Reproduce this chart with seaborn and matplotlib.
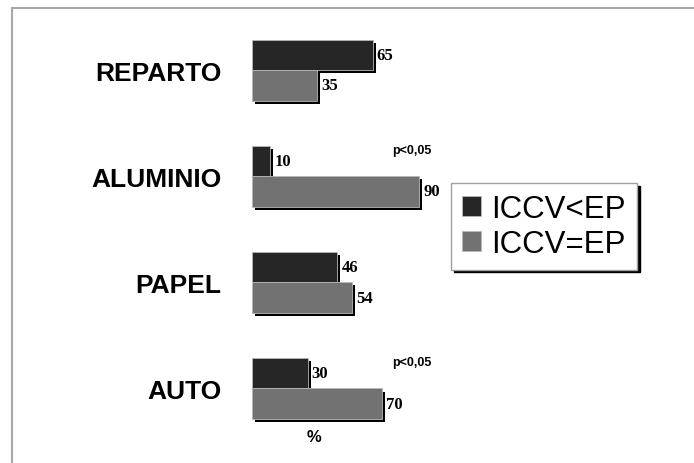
import matplotlib
matplotlib.use("Agg")
import matplotlib.patheffects as pe
import pandas as pd
import seaborn as sns
from matplotlib import pyplot as plt
from matplotlib.lines import Line2D

categories = ["REPARTO", "ALUMINIO", "PAPEL", "AUTO"]
groups = ["ICCV<EP", "ICCV=EP"]
iccv_lt_ep = [65, 10, 46, 30]
iccv_eq_ep = [35, 90, 54, 70]
significant = ["ALUMINIO", "AUTO"]

DARK = "#262626"
LIGHT = "#727272"

sns.set_theme(style="white")
plt.rcParams["font.family"] = ["Liberation Sans", "DejaVu Sans"]

rows = []
for cat, a, b in zip(categories, iccv_lt_ep, iccv_eq_ep):
    rows.append({"category": cat, "group": groups[0], "value": a})
    rows.append({"category": cat, "group": groups[1], "value": b})
df = pd.DataFrame(rows)

fig = plt.figure(figsize=(6.94, 4.64), dpi=100)
ax = fig.add_axes([0.3627, 0.0463, 0.268, 0.9149])

sns.barplot(
    data=df,
    y="category",
    x="value",
    hue="group",
    order=categories,
    hue_order=groups,
    orient="h",
    palette=[DARK, LIGHT],
    saturation=1,
    width=0.575,
    edgecolor="#b8b8b8",
    linewidth=0.6,
    errorbar=None,
    ax=ax,
)

handles, labels = ax.get_legend_handles_labels()
ax.get_legend().remove()

shadow = [pe.SimplePatchShadow(offset=(2.2, -2.2), shadow_rgbFace="black", alpha=1), pe.Normal()]
for bar in ax.patches:
    bar.set_path_effects(shadow)

for container in ax.containers:
    ax.bar_label(container, padding=3, fontsize=12, fontweight="bold",
                 family="Liberation Serif", color="black")

for cat in significant:
    ax.text(75.3, categories.index(cat) - 0.25, "p<0,05", fontsize=9,
            fontweight="bold", va="center", ha="left", color="black")

ax.text(33.5, 3.45, "%", fontsize=12, fontweight="bold", ha="center", va="center", color="black")

ax.set_xlim(0, 100)
ax.set_ylim(3.5, -0.5)
ax.set_xlabel("")
ax.set_ylabel("")
ax.set_xticks([])
ax.tick_params(axis="y", length=0, pad=21.6)
for lbl in ax.get_yticklabels():
    lbl.set_fontsize(19)
    lbl.set_fontweight("bold")
    lbl.set_color("black")
sns.despine(ax=ax, left=True, bottom=True)

leg = fig.legend(
    handles, labels,
    loc="upper left",
    bbox_to_anchor=(451 / 694, 1 - 184 / 464),
    bbox_transform=fig.transFigure,
    borderaxespad=0,
    fontsize=22.5,
    handlelength=0.6,
    handleheight=0.6,
    handletextpad=0.35,
    labelspacing=0.15,
    borderpad=0.35,
    fancybox=False,
    frameon=True,
    shadow={"color": "black", "alpha": 1},
)
leg.get_frame().set_edgecolor("#a0a0a0")
leg.get_frame().set_linewidth(1)
leg.get_frame().set_facecolor("white")
for h in leg.legend_handles:
    h.set_path_effects([])
    h.set_edgecolor("#b8b8b8")
for t in leg.get_texts():
    t.set_color("black")

bx = 12 / 694
by = 1 - 9 / 464
fig.add_artist(Line2D([bx, bx], [0, by], color="#a8a8a8", lw=1.5, transform=fig.transFigure))
fig.add_artist(Line2D([bx, 1], [by, by], color="#a8a8a8", lw=1.5, transform=fig.transFigure))

fig.savefig("out.png", dpi=100)
